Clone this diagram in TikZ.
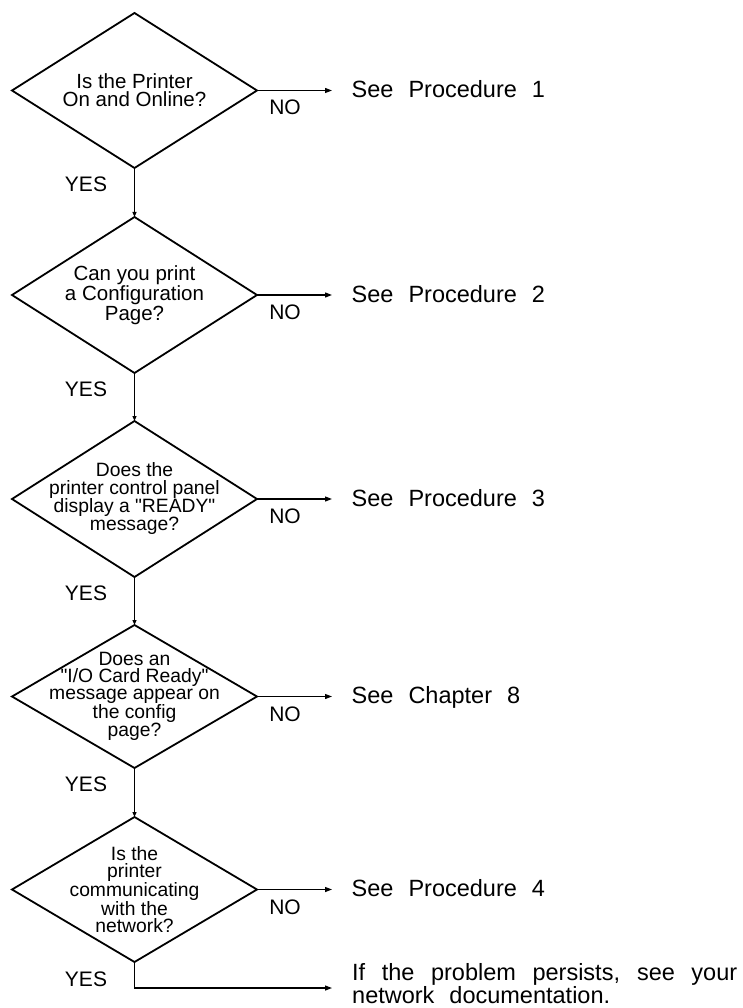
\documentclass[tikz,border=0pt]{standalone}
\usepackage{fontspec}
\setmainfont{Liberation Sans}[Ligatures=TeXOff]
\usetikzlibrary{shapes.geometric,arrows.meta}
\newcommand{\resfont}{\fontsize{23.5}{23}\selectfont\spaceskip=15pt plus 8pt minus 2pt\relax}
\begin{document}
\begin{tikzpicture}[x=1pt,y=-1pt,
  dia/.style={draw, diamond, line width=1.8pt, minimum width=245pt, minimum height=156pt, inner sep=0pt, outer sep=0pt, line join=miter},
  qtexta/.style={align=center, font=\fontsize{20.5}{18}\selectfont, inner sep=0pt},
  qtext/.style={align=center, font=\fontsize{19.3}{18}\selectfont, inner sep=0pt},
  qtextb/.style={align=center, font=\fontsize{19.3}{16.7}\selectfont, inner sep=0pt},
  conn/.style={line width=1.2pt, -{Triangle[length=7pt,width=5pt]}},
  down/.style={line width=1.2pt, -{Triangle[length=5pt,width=4pt]}},
  lab/.style={font=\fontsize{21}{24}\selectfont, inner sep=0pt, anchor=base},
  res/.style={anchor=west, inner xsep=19.5pt, inner ysep=0pt, text height=14pt, text depth=0pt, font=\resfont}]
\useasboundingbox (0,0) rectangle (743,1008);

% decision diamonds
\node[dia, minimum height=155pt] (d1) at (134.5,90.5) {};
\node[dia] (d2) at (134.5,295) {};
\node[dia] (d3) at (134.5,499) {};
\node[dia, minimum height=143pt] (d4) at (134.5,696.5) {};
\node[dia, minimum height=145pt] (d5) at (134.5,889.5) {};

% question texts
\node[qtexta] (t1) at (d1) {Is the Printer\\On and Online?};
\node[qtexta] (t2) at (d2) {Can you print\\a Configuration\\Page?};
\node[qtext] (t3) at (d3) {Does the\\printer control panel\\display a "READY"\\message?};
\node[qtextb] (t4) at (d4) {Does an\\"I/O Card Ready"\\message appear on\\the config\\page?};
\node[qtextb] (t5) at (d5) {Is the\\printer\\communicating\\with the\\network?};

% results
\node[res] (p1) at (332,90.5) {See Procedure 1};
\node[res] (p2) at (332,295) {See Procedure 2};
\node[res] (p3) at (332,499) {See Procedure 3};
\node[res] (c8) at (332,696.5) {See Chapter 8};
\node[res] (p4) at (332,889.5) {See Procedure 4};
\coordinate (endc) at (332,988);
\node[anchor=north west, inner sep=0pt, align=left, font=\resfont] (fin) at (352,963.5)
  {\makebox[385pt][s]{If the problem persists, see your}\\network documentation.};

% NO connectors
\draw[conn] (d1.east) -- (p1.west);
\draw[conn] (d2.east) -- (p2.west);
\draw[conn] (d3.east) -- (p3.west);
\draw[conn] (d4.east) -- (c8.west);
\draw[conn] (d5.east) -- (p4.west);

% YES connectors
\draw[down] (d1.south) -- (d2.north);
\draw[down] (d2.south) -- (d3.north);
\draw[down] (d3.south) -- (d4.north);
\draw[down] (d4.south) -- (d5.north);
\draw[conn] (d5.south) |- (endc);

% labels
\node[lab] (n1) at (285,115) {NO};
\node[lab] (n2) at (285,319.5) {NO};
\node[lab] (n3) at (285,523.5) {NO};
\node[lab] (n4) at (285,721) {NO};
\node[lab] (n5) at (285,914) {NO};
\node[lab] (y1) at (86,191.5) {YES};
\node[lab] (y2) at (86,396) {YES};
\node[lab] (y3) at (86,600) {YES};
\node[lab] (y4) at (86,791.5) {YES};
\node[lab] (y5) at (86,986) {YES};
\end{tikzpicture}
\end{document}
